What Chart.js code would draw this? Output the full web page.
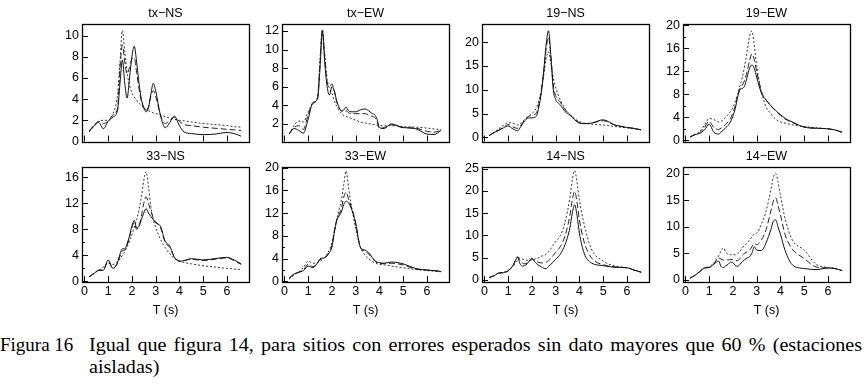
<!DOCTYPE html>
<html>
<head>
<meta charset="utf-8">
<script src="https://cdn.jsdelivr.net/npm/chart.js@4.4.0/dist/chart.umd.min.js"></script>
<style>
  body { margin: 0; background: #fff; width: 867px; height: 387px; overflow: hidden; position: relative; }
  canvas { position: absolute; }
  #caption { position: absolute; left: 0; top: 334px; font-family: "Liberation Serif", "Times New Roman", serif; font-size: 19px; line-height: 22px; color: #000; white-space: nowrap; }
  #caption .fig { position: absolute; left: 0; top: 0; }
  #caption .txt { position: absolute; top: 0; left: 89px; word-spacing: 2px; transform-origin: 0 0; }
</style>
</head>
<body>
<div id="caption"><span class="fig">Figura 16</span><div class="txt" id="capText"><span id="line1">Igual que figura 14, para sitios con errores esperados sin dato mayores que 60 % (estaciones</span><br>aisladas)</div></div>
<script>
// periods (s), shared by every panel
const T = [0.2,0.4,0.6,0.8,1.0,1.2,1.4, 1.5,1.6,1.7,1.8,1.9,2.0,2.1,2.2,2.3,2.4,2.5,2.6,2.7,2.8,2.9,3.0, 3.2,3.4,3.6, 3.7,3.8,3.9,4.0, 4.2,4.5, 5.0,5.5,6.0,6.3,6.6];

// tx-NS
const txNS_solid  = [0.9,1.5,1.8,1.2,1.9,2.3,3.0, 5.5,7.7,5.5,4.1,6.0,8.0,9.0,7.5,5.5,4.0,3.2,2.8,3.2,4.5,5.5,4.8, 2.5,1.3,1.8, 2.2,2.4,2.0,1.5, 0.9,0.75, 0.65,0.7,0.85,0.75,0.5];
const txNS_dashed = [1.0,1.5,1.9,1.7,1.9,2.5,3.2, 7.0,9.1,7.5,6.4,7.0,7.8,7.9,6.5,5.0,3.8,3.2,2.9,3.3,4.3,4.8,4.3, 2.5,1.7,2.0, 2.2,2.3,2.1,1.9, 1.6,1.5, 1.35,1.25,1.15,1.1,1.05];
const txNS_dotted = [1.0,1.4,1.9,2.0,2.0,2.6,4.5, 7.5,10.5,8.5,6.5,5.3,4.6,4.2,3.9,3.6,3.4,3.2,3.0,2.9,2.8,2.7,2.65, 2.5,2.35,2.2, 2.15,2.1,2.05,2.0, 1.95,1.85, 1.7,1.6,1.5,1.4,1.35];

// tx-EW
const txEW_solid  = [0.9,1.5,1.3,1.0,2.5,4.3,4.7, 8.0,12.0,8.5,6.0,5.1,6.0,5.6,4.5,3.8,3.4,3.5,3.8,3.4,3.3,3.3,3.3, 3.5,3.6,3.3, 3.1,3.0,2.5,1.6, 1.5,2.0, 1.6,1.5,0.9,0.85,1.3];
const txEW_dashed = [0.9,1.6,1.8,1.4,3.0,4.2,4.8, 8.5,12.0,9.0,6.5,6.0,6.3,5.5,4.4,3.7,3.4,3.3,3.4,3.2,3.1,3.1,3.1, 3.1,3.1,2.9, 2.8,2.7,2.3,1.5, 1.6,1.9, 1.6,1.55,1.2,1.1,1.3];
const txEW_dotted = [0.9,1.8,2.3,2.2,3.3,4.2,5.0, 9.0,12.2,9.5,6.8,5.8,5.3,4.5,3.9,3.4,3.1,2.9,2.8,2.7,2.6,2.5,2.4, 2.2,2.1,2.0, 1.95,1.9,1.85,1.8, 1.8,1.8, 1.7,1.65,1.55,1.45,1.4];

// 19-NS
const s19NS_solid  = [0.4,1.0,1.5,2.0,2.4,1.8,1.4, 2.0,2.8,3.5,4.0,4.1,4.1,4.2,4.6,6.5,9.5,14.0,19.5,22.4,17.0,10.0,8.0, 6.8,5.4,4.7, 4.2,3.7,3.3,3.0, 2.9,3.0, 3.7,2.6,2.1,1.9,1.6];
const s19NS_dashed = [0.4,1.0,1.5,2.1,2.7,2.2,1.9, 2.3,3.0,3.7,4.2,4.5,4.6,4.8,5.2,7.0,10.0,14.0,18.5,21.0,17.0,11.0,8.8, 7.4,5.8,4.8, 4.3,3.8,3.4,3.1, 2.9,3.0, 3.5,2.6,2.1,1.9,1.6];
const s19NS_dotted = [0.4,1.1,1.8,2.5,3.1,3.0,2.6, 2.8,3.3,3.8,4.2,4.6,5.0,5.5,6.3,7.8,10.0,13.0,16.5,18.0,15.5,12.5,10.5, 7.8,6.0,4.8, 4.3,3.9,3.6,3.3, 3.0,2.8, 2.6,2.3,2.0,1.8,1.6];

// 19-EW
const s19EW_solid  = [0.6,1.0,1.2,1.8,2.8,1.4,1.1, 1.4,1.8,2.2,2.6,3.2,4.2,5.5,7.5,8.8,9.0,9.5,11.0,12.5,13.1,12.5,11.0, 8.2,7.0,6.0, 5.6,5.2,4.8,4.5, 3.8,3.2, 2.3,2.1,2.0,1.8,1.4];
const s19EW_dashed = [0.6,1.0,1.3,2.2,3.3,2.2,1.9, 2.1,2.4,2.8,3.2,3.8,4.8,6.0,7.8,9.0,9.6,10.5,12.0,13.8,15.0,14.0,12.0, 8.5,7.0,6.0, 5.5,5.1,4.7,4.3, 3.7,3.1, 2.3,2.1,2.0,1.8,1.4];
const s19EW_dotted = [0.6,1.0,1.5,2.6,3.8,3.6,3.2, 3.3,3.6,4.0,4.5,5.0,5.7,6.7,8.0,9.5,11.0,13.0,15.5,18.0,19.0,16.5,13.0, 8.5,5.8,4.6, 4.1,3.7,3.4,3.2, 3.0,2.7, 2.4,2.2,2.0,1.8,1.4];

// 33-NS
const s33NS_solid  = [0.7,1.2,1.7,1.7,3.3,2.0,3.0, 4.2,5.0,5.0,5.8,7.0,8.5,9.4,8.2,8.5,9.5,10.5,11.2,10.5,10.0,9.5,9.0, 8.5,6.2,5.4, 4.5,3.6,3.3,3.1, 3.2,3.5, 3.3,3.5,3.7,3.3,2.7];
const s33NS_dashed = [0.7,1.2,1.7,1.8,3.1,2.0,2.8, 3.9,4.7,4.8,5.6,6.8,8.3,9.0,8.0,8.6,10.0,12.0,13.0,12.0,10.8,9.8,9.2, 8.3,6.0,5.2, 4.4,3.6,3.3,3.1, 3.2,3.4, 3.2,3.4,3.6,3.2,2.6];
const s33NS_dotted = [0.7,1.2,1.7,2.2,2.8,2.6,3.0, 3.5,4.0,4.6,5.3,6.2,7.2,8.3,9.5,11.0,13.0,15.5,16.9,14.5,11.5,9.5,8.3, 6.5,5.2,4.2, 3.8,3.5,3.3,3.1, 2.9,2.7, 2.4,2.2,2.0,1.9,1.8];

// 33-EW
const s33EW_solid  = [0.6,1.3,1.6,1.9,2.7,2.4,3.3, 4.0,4.1,4.2,4.5,5.1,6.0,8.5,10.6,11.5,12.2,13.5,14.1,13.8,13.0,11.8,10.2, 6.0,5.5,4.8, 4.2,3.7,3.4,3.3, 3.2,3.4, 3.1,2.3,2.0,1.9,1.75];
const s33EW_dashed = [0.5,1.2,1.6,2.0,3.0,2.6,3.3, 3.8,4.0,4.2,4.6,5.3,6.3,8.8,10.8,11.8,12.8,14.8,15.7,14.5,13.3,12.0,10.3, 6.0,5.3,4.6, 4.1,3.6,3.3,3.2, 3.1,3.2, 2.9,2.2,2.0,1.9,1.75];
const s33EW_dotted = [0.4,1.1,1.7,2.4,3.6,3.2,3.3, 3.5,3.8,4.2,4.8,5.6,6.8,8.7,10.8,12.5,14.3,17.0,19.4,16.5,13.8,11.5,9.3, 6.0,4.6,3.8, 3.5,3.3,3.1,3.0, 2.9,2.7, 2.4,2.1,1.9,1.8,1.7];

// 14-NS
const s14NS_solid  = [0.5,0.9,1.5,1.6,2.0,3.2,5.0, 3.6,3.1,3.2,3.6,4.3,4.9,4.2,3.6,3.2,2.9,2.6,2.5,3.0,3.5,4.0,4.6, 5.8,8.0,11.7, 15.0,16.9,14.5,10.5, 6.0,3.8, 3.2,2.8,2.7,2.2,1.7];
const s14NS_dashed = [0.5,0.9,1.5,1.6,2.0,3.2,5.2, 4.3,3.8,3.6,3.8,4.3,4.7,4.4,4.1,3.9,3.8,3.8,3.9,4.3,4.8,5.5,6.2, 7.5,10.0,14.5, 18.0,19.9,17.5,13.5, 8.5,5.0, 3.4,2.9,2.7,2.2,1.7];
const s14NS_dotted = [0.5,0.9,1.5,1.7,2.1,3.0,4.5, 4.9,4.7,4.5,4.4,4.4,4.5,4.6,4.8,5.0,5.3,5.5,5.8,6.3,7.0,7.8,8.6, 10.0,13.0,18.5, 22.5,24.6,22.0,18.0, 12.5,7.0, 4.2,3.1,2.7,2.2,1.7];

// 14-EW
const s14EW_solid  = [0.3,0.8,1.5,2.2,2.3,2.9,3.5, 2.5,2.3,2.6,2.9,3.3,3.2,2.7,2.5,2.9,3.4,3.8,4.1,4.3,5.0,6.2,5.6, 5.5,7.0,9.5, 11.0,11.3,10.0,8.6, 5.5,2.8, 2.1,1.9,2.2,2.1,1.7];
const s14EW_dashed = [0.3,0.8,1.5,2.2,2.3,3.0,4.1, 3.9,3.7,3.7,3.7,3.8,3.8,3.6,3.6,4.0,4.6,5.0,5.3,5.6,6.2,6.9,6.6, 7.5,9.5,13.0, 14.8,15.5,14.0,12.3, 8.5,5.8, 4.0,2.4,2.2,2.1,1.7];
const s14EW_dotted = [0.3,0.8,1.5,2.2,2.4,3.2,4.5, 5.4,6.0,5.2,4.8,4.7,4.7,4.7,4.9,5.4,6.0,6.5,6.9,7.5,8.1,8.7,8.8, 10.5,13.0,17.0, 19.3,20.1,18.5,16.0, 11.5,7.5, 5.6,2.9,2.3,2.1,1.7];

// tick values
const xTicks = [0,1,2,3,4,5,6];
const yTicks_txNS = [0,2,4,6,8,10];
const yTicks_txEW = [2,4,6,8,10,12];
const yTicks_19NS = [0,5,10,15,20];
const yTicks_19EW = [0,4,8,12,16,20];
const yMinor_19EW = [2,6,10,14,18];
const yTicks_33NS = [0,4,8,12,16];
const yMinor_33NS = [2,6,10,14];
const yTicks_33EW = [0,4,8,12,16,20];
const yMinor_33EW = [2,6,10,14,18];
const yTicks_14NS = [0,5,10,15,20,25];
const yTicks_14EW = [0,5,10,15,20];

// panel grid
const colLeft = [82, 282, 482, 683];
const rowTop = [24, 167];
const rowH = [118, 115];
const boxW = 167;

const panels = [
  {title: 'tx\u2212NS', s: txNS_solid, d: txNS_dashed, p: txNS_dotted, min: 0, max: 11.1, ticks: yTicks_txNS, minor: [], col: 0, row: 0},
  {title: 'tx\u2212EW', s: txEW_solid, d: txEW_dashed, p: txEW_dotted, min: 0.1, max: 12.75, ticks: yTicks_txEW, minor: [], col: 1, row: 0},
  {title: '19\u2212NS', s: s19NS_solid, d: s19NS_dashed, p: s19NS_dotted, min: -0.85, max: 23.8, ticks: yTicks_19NS, minor: [], col: 2, row: 0},
  {title: '19\u2212EW', s: s19EW_solid, d: s19EW_dashed, p: s19EW_dotted, min: -0.2, max: 20.2, ticks: yTicks_19EW, minor: yMinor_19EW, col: 3, row: 0},
  {title: '33\u2212NS', s: s33NS_solid, d: s33NS_dashed, p: s33NS_dotted, min: -0.1, max: 17.6, ticks: yTicks_33NS, minor: yMinor_33NS, col: 0, row: 1},
  {title: '33\u2212EW', s: s33EW_solid, d: s33EW_dashed, p: s33EW_dotted, min: -0.1, max: 20.1, ticks: yTicks_33EW, minor: yMinor_33EW, col: 1, row: 1},
  {title: '14\u2212NS', s: s14NS_solid, d: s14NS_dashed, p: s14NS_dotted, min: -0.5, max: 25.4, ticks: yTicks_14NS, minor: [], col: 2, row: 1},
  {title: '14\u2212EW', s: s14EW_solid, d: s14EW_dashed, p: s14EW_dotted, min: -0.45, max: 21.3, ticks: yTicks_14EW, minor: [], col: 3, row: 1}
];

// frame + inward tick marks
const frameTicks = {
  id: 'frameTicks',
  afterDatasetsDraw(chart, args, opts) {
    const {ctx, chartArea: a, scales: {x, y}} = chart;
    ctx.save();
    ctx.strokeStyle = '#000';
    ctx.lineWidth = 1;
    ctx.beginPath();
    x.ticks.forEach(t => {
      const px = Math.round(x.getPixelForValue(t.value)) + 0.5;
      ctx.moveTo(px, a.bottom); ctx.lineTo(px, a.bottom - 6);
    });
    y.ticks.forEach(t => {
      const py = Math.round(y.getPixelForValue(t.value)) + 0.5;
      ctx.moveTo(a.left, py); ctx.lineTo(a.left + 6, py);
    });
    (opts.minor || []).forEach(v => {
      const py = Math.round(y.getPixelForValue(v)) + 0.5;
      ctx.moveTo(a.left, py); ctx.lineTo(a.left + 3, py);
    });
    ctx.stroke();
    ctx.lineWidth = 1.3;
    ctx.strokeRect(Math.round(a.left) + 0.5, Math.round(a.top) + 0.5, Math.round(a.right - a.left), Math.round(a.bottom - a.top));
    ctx.restore();
  }
};

function series(vals, dash, color) {
  return {
    data: T.map((t, i) => ({x: t, y: vals[i]})),
    borderColor: color,
    borderWidth: 1,
    borderDash: dash,
    pointRadius: 0,
    fill: false,
    cubicInterpolationMode: 'monotone'
  };
}

const tickFont = {family: 'Liberation Sans', size: 12.5};

panels.forEach(p => {
  const bottomH = p.row === 0 ? 10 : 36;
  const w = 40 + boxW + 6;
  const h = 24 + rowH[p.row] + bottomH;
  const cv = document.createElement('canvas');
  cv.width = w; cv.height = h;
  cv.style.width = w + 'px'; cv.style.height = h + 'px';
  cv.style.left = (colLeft[p.col] - 40) + 'px';
  cv.style.top = (rowTop[p.row] - 24) + 'px';
  document.body.appendChild(cv);

  new Chart(cv, {
    type: 'line',
    data: {
      datasets: [
        series(p.s, [], '#111'),
        series(p.d, [6, 3], '#222'),
        series(p.p, [2, 2], '#333')
      ]
    },
    options: {
      responsive: false,
      animation: false,
      devicePixelRatio: 1,
      layout: {padding: {left: 0, right: 6, top: 0, bottom: 0}},
      plugins: {
        legend: {display: false},
        tooltip: {enabled: false},
        title: {
          display: true, fullSize: false, text: p.title, color: '#000',
          font: {family: 'Liberation Sans', size: 12.5, weight: 'normal'},
          padding: {top: 6, bottom: 3}
        },
        frameTicks: {minor: p.minor}
      },
      scales: {
        x: {
          type: 'linear', min: -0.1, max: 6.93,
          grid: {display: false, drawTicks: false},
          border: {display: false},
          afterBuildTicks: s => { s.ticks = xTicks.map(v => ({value: v})); },
          afterFit: s => { s.height = bottomH; },
          ticks: {display: p.row === 1, padding: 2, color: '#000', font: tickFont, maxRotation: 0, autoSkip: false},
          title: {display: p.row === 1, text: 'T (s)', color: '#000', font: tickFont, padding: {top: 4, bottom: 0}}
        },
        y: {
          min: p.min, max: p.max,
          grid: {display: false, drawTicks: false},
          border: {display: false},
          afterBuildTicks: s => { s.ticks = p.ticks.map(v => ({value: v})); },
          afterFit: s => { s.width = 40; },
          ticks: {padding: 3, color: '#000', font: tickFont}
        }
      }
    },
    plugins: [frameTicks]
  });
});

// stretch the caption text so its first line spans the reference width
const line1 = document.getElementById('line1');
const k = 773 / line1.getBoundingClientRect().width;
document.getElementById('capText').style.transform = 'scaleX(' + k + ')';
</script>
</body>
</html>
